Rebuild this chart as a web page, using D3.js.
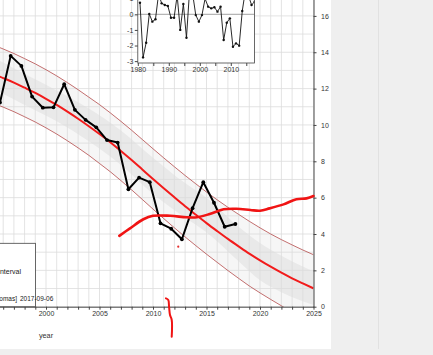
<!DOCTYPE html>
<html><head><meta charset="utf-8">
<script src="https://cdn.jsdelivr.net/npm/d3@7"></script>
<style>
body{margin:0;background:#efefef}
svg{display:block}
text{font-family:"Liberation Sans",Arial,Helvetica,sans-serif}
</style>
</head><body>
<svg id="c" width="433" height="355"></svg>
<script>
// ---- data ----
const obsYears  = [1995,1996,1997,1998,1999,2000,2001,2002,2003,2004,2005,2006,2007,2008,2009,2010,2011,2012,2013,2014,2015,2016,2017];
const obsValues = [11.23,13.80,13.25,11.56,10.95,10.97,12.24,10.83,10.28,9.87,9.17,9.03,6.46,7.10,6.85,4.59,4.29,3.71,5.42,6.85,5.72,4.40,4.55];

const fitYears  = [1993,1994,1995,1996,1997,1998,1999,2000,2001,2002,2003,2004,2005,2006,2007,2008,2009,2010,2011,2012,2013,2014,2015,2016,2017,2018,2019,2020,2021,2022,2023,2024,2025];
const fitTrend  = [13.25,13.04,12.82,12.58,12.33,12.05,11.76,11.44,11.10,10.73,10.34,9.93,9.50,9.05,8.57,8.07,7.55,7.03,6.52,6.02,5.53,5.06,4.60,4.16,3.73,3.32,2.92,2.55,2.20,1.87,1.56,1.28,1.01];
const fitUpper  = [14.85,14.64,14.42,14.18,13.93,13.65,13.36,13.04,12.70,12.33,11.94,11.53,11.12,10.67,10.20,9.71,9.20,8.69,8.19,7.70,7.22,6.76,6.31,5.88,5.47,5.08,4.70,4.34,4.00,3.69,3.40,3.12,2.86];
const fitLower  = [11.65,11.44,11.22,10.98,10.73,10.45,10.16,9.84,9.50,9.13,8.74,8.33,7.88,7.43,6.94,6.43,5.90,5.37,4.85,4.34,3.84,3.36,2.89,2.44,1.99,1.56,1.14,0.76,0.40,0.05,-0.28,-0.56,-0.84];

const bandYears = [1993,1995,1998,2001,2004,2007,2010,2013,2015,2018,2020,2022,2025];
const bandLow   = [12.50,12.00,11.10,10.20,9.10,7.80,6.20,4.90,4.10,2.50,1.45,0.80,0.10];
const bandHigh  = [14.10,13.70,12.80,11.90,10.90,9.70,8.20,6.80,6.00,4.40,3.50,2.80,1.93];

const insetYears  = [1980,1981,1982,1983,1984,1985,1986,1987,1988,1989,1990,1991,1992,1993,1994,1995,1996,1997,1998,1999,2000,2001,2002,2003,2004,2005,2006,2007,2008,2009,2010,2011,2012,2013,2014,2015,2016,2017];
const insetValues = [0.74,-2.76,-1.82,0.02,-0.47,-0.32,1.30,0.70,0.60,0.53,-0.22,-0.22,1.20,-1.00,0.66,-1.50,1.50,1.30,-0.05,-0.47,-0.05,1.00,0.49,0.38,0.45,0.17,0.49,-1.65,-0.54,-0.26,-2.08,-1.86,-2.01,0.21,1.50,1.20,0.60,0.81];

const xTickLabels = [2000,2005,2010,2015,2020,2025];
const yTickLabels = [0,2,4,6,8,10,12,14,16];
const insetXLabels = [1980,1990,2000,2010];
const insetYLabels = [-3,-2,-1,0,1];

// hand-drawn annotations (year, value)
const annoYears  = [2006.85,2007.85,2009.1,2010.0,2011.6,2013.15,2014.1,2015.3,2016.6,2017.8,2019.1,2020.0,2020.9,2022.2,2023.4,2024.35,2025.0];
const annoValues = [3.90,4.31,4.81,5.00,5.00,4.92,4.92,5.10,5.36,5.39,5.32,5.28,5.41,5.63,5.91,5.96,6.09];
const markYears  = [2011.21,2011.43,2011.5,2011.59,2011.75,2011.75];
const markValues = [0.46,0.37,0.0,-0.46,-0.73,-1.65];
const dotYear = 2012.36, dotValue = 3.3;

const legendTexts = ["prediction interval", "[piomas]", "2017-09-06"];
const axisTitle = "year";
const SEPT = 0.7; // September position within the year

// ---- drawing ----
const svg = d3.select("#c");
svg.append("rect").attr("width",433).attr("height",355).attr("fill","#efefef");
svg.append("rect").attr("width",331).attr("height",349).attr("fill","#ffffff");
svg.append("line").attr("x1",378.5).attr("x2",378.5).attr("y1",0).attr("y2",349).attr("stroke","#e1e1e1");

const x = d3.scaleLinear().domain([2000,2025]).range([46,313.5]);
const y = d3.scaleLinear().domain([0,16]).range([306.7,15.9]);

const defs = svg.append("defs");
defs.append("clipPath").attr("id","plot").append("rect")
  .attr("x",-200).attr("y",-200).attr("width",x(2025)+200).attr("height",y(0)+200);

const plot = svg.append("g").attr("clip-path","url(#plot)");

// outer light band between thin limits
const fit = fitYears.map((d,i)=>({yr:d,t:fitTrend[i],u:fitUpper[i],l:fitLower[i]}));
plot.append("path").datum(fit)
  .attr("d", d3.area().x(d=>x(d.yr)).y0(d=>y(d.l)).y1(d=>y(d.u)).curve(d3.curveMonotoneX))
  .attr("fill","#f6f6f6");
const band = bandYears.map((d,i)=>({yr:d,l:bandLow[i],h:bandHigh[i]}));
plot.append("path").datum(band)
  .attr("d", d3.area().x(d=>x(d.yr)).y0(d=>y(d.l)).y1(d=>y(d.h)).curve(d3.curveMonotoneX))
  .attr("fill","#e9e9e9");

// grid
const gridYears = d3.range(1990, 2026);
plot.append("g").selectAll("line").data(gridYears).join("line")
  .attr("x1",d=>x(d)).attr("x2",d=>x(d)).attr("y1",-10).attr("y2",y(0))
  .attr("stroke","#dcdcdc").attr("stroke-width",0.8);
const gridVals = d3.range(0, 18);
plot.append("g").selectAll("line").data(gridVals).join("line")
  .attr("x1",-10).attr("x2",x(2025)).attr("y1",d=>y(d)).attr("y2",d=>y(d))
  .attr("stroke","#dcdcdc").attr("stroke-width",0.8);

// thin limits
const thin = d3.line().x(d=>x(d.yr)).curve(d3.curveMonotoneX);
plot.append("path").datum(fit).attr("d", thin.y(d=>y(d.u))).attr("fill","none").attr("stroke","#b44a4a").attr("stroke-width",0.8);
plot.append("path").datum(fit).attr("d", thin.y(d=>y(d.l))).attr("fill","none").attr("stroke","#b44a4a").attr("stroke-width",0.8);
// trend
plot.append("path").datum(fit).attr("d", thin.y(d=>y(d.t))).attr("fill","none").attr("stroke","#f21b1b").attr("stroke-width",2);

// observations
const obs = obsYears.map((d,i)=>({yr:d,v:obsValues[i]}));
plot.append("path").datum(obs)
  .attr("d", d3.line().x(d=>x(d.yr+SEPT)).y(d=>y(d.v)))
  .attr("fill","none").attr("stroke","#000").attr("stroke-width",2).attr("stroke-linejoin","round");
plot.append("g").selectAll("circle").data(obs).join("circle")
  .attr("cx",d=>x(d.yr+SEPT)).attr("cy",d=>y(d.v)).attr("r",1.9).attr("fill","#000");

// axes
const axX = d3.axisBottom(x.copy().domain([1990,2025]).range([x(1990),x(2025)]))
  .tickValues(gridYears).tickSize(3).tickSizeOuter(0)
  .tickFormat(d => xTickLabels.includes(d) ? String(d) : "");
const gx = svg.append("g").attr("transform",`translate(0,${y(0)})`).call(axX);
gx.select(".domain").attr("stroke","#444");
gx.selectAll(".tick line").attr("stroke","#444");
gx.selectAll(".tick text").attr("fill","#333").attr("font-size",7).attr("dy","0.55em").attr("y",5);

const axY = d3.axisRight(y.copy().domain([0,18]).range([y(0),y(18)]))
  .tickValues(yTickLabels).tickSize(3).tickSizeOuter(0).tickFormat(d=>String(d));
const gy = svg.append("g").attr("transform",`translate(${x(2025)},0)`).call(axY);
gy.select(".domain").attr("stroke","#444");
gy.selectAll(".tick line").attr("stroke","#444");
gy.selectAll(".tick text").attr("fill","#333").attr("font-size",7).attr("x",7.5);

svg.append("text").attr("x",x(2000)).attr("y",338).attr("text-anchor","middle")
  .attr("font-size",7.3).attr("fill","#333").text(axisTitle);

// legend box (cropped)
svg.append("rect").attr("x",-5).attr("y",243.3).attr("width",40.5).attr("height",y(0)-243.3)
  .attr("fill","#fff").attr("stroke","#444").attr("stroke-width",0.8);
svg.append("text").attr("x",21).attr("y",273.6).attr("text-anchor","end").attr("font-size",7).attr("fill","#222").text(legendTexts[0]);
svg.append("text").attr("x",17).attr("y",300.6).attr("text-anchor","end").attr("font-size",6.5).attr("fill","#222").text(legendTexts[1]);
svg.append("text").attr("x",20).attr("y",300.6).attr("font-size",6.5).attr("fill","#222").text(legendTexts[2]);

// inset
const xi = d3.scaleLinear().domain([1980,2017.65]).range([137.8,254.5]);
const yi = d3.scaleLinear().domain([-3.12,2.3]).range([63,-21.6]);
defs.append("clipPath").attr("id","inset").append("rect")
  .attr("x",xi(1980)).attr("y",yi(2.3)).attr("width",xi(2017.65)-xi(1980)).attr("height",yi(-3.12)-yi(2.3));
svg.append("rect").attr("x",xi(1980)).attr("y",yi(2.3)).attr("width",xi(2017.65)-xi(1980)).attr("height",yi(-3.12)-yi(2.3))
  .attr("fill","#fff");
const ig = svg.append("g").attr("clip-path","url(#inset)");
ig.append("line").attr("x1",xi(1980)).attr("x2",xi(2017.65)).attr("y1",yi(0)).attr("y2",yi(0)).attr("stroke","#8a8a8a").attr("stroke-width",0.8);
const ins = insetYears.map((d,i)=>({yr:d,v:insetValues[i]}));
ig.append("path").datum(ins).attr("d", d3.line().x(d=>xi(d.yr+SEPT)).y(d=>yi(d.v)))
  .attr("fill","none").attr("stroke","#111").attr("stroke-width",0.9);
ig.append("g").selectAll("circle").data(ins).join("circle")
  .attr("cx",d=>xi(d.yr+SEPT)).attr("cy",d=>yi(d.v)).attr("r",1.2).attr("fill","#111");
svg.append("rect").attr("x",xi(1980)).attr("y",yi(2.3)).attr("width",xi(2017.65)-xi(1980)).attr("height",yi(-3.12)-yi(2.3))
  .attr("fill","none").attr("stroke","#444").attr("stroke-width",0.8);

const axIL = d3.axisLeft(yi).tickValues(insetYLabels).tickSize(3).tickSizeOuter(0).tickFormat(d=>String(d));
const gil = svg.append("g").attr("transform",`translate(${xi(1980)},0)`).call(axIL);
gil.select(".domain").remove();
gil.selectAll(".tick line").attr("stroke","#444");
gil.selectAll(".tick text").attr("fill","#333").attr("font-size",7).attr("x",-4.5);

const axIB = d3.axisBottom(xi).tickValues([1980,1985,1990,1995,2000,2005,2010,2015]).tickSize(3).tickSizeOuter(0)
  .tickFormat(d => insetXLabels.includes(d) ? String(d) : "");
const gib = svg.append("g").attr("transform",`translate(0,${yi(-3.12)})`).call(axIB);
gib.select(".domain").remove();
gib.selectAll(".tick line").attr("stroke","#444");
gib.selectAll(".tick text").attr("fill","#333").attr("font-size",7).attr("y",4).attr("dy","0.7em");

// annotations
const anno = annoYears.map((d,i)=>({yr:d,v:annoValues[i]}));
svg.append("path").datum(anno).attr("d", d3.line().x(d=>x(d.yr)).y(d=>y(d.v)).curve(d3.curveCatmullRom))
  .attr("fill","none").attr("stroke","#f01414").attr("stroke-width",2.6).attr("stroke-linecap","round");
const mark = markYears.map((d,i)=>({yr:d,v:markValues[i]}));
svg.append("path").datum(mark).attr("d", d3.line().x(d=>x(d.yr)).y(d=>y(d.v)).curve(d3.curveCatmullRom))
  .attr("fill","none").attr("stroke","#f01414").attr("stroke-width",2).attr("stroke-linecap","round");
svg.append("circle").attr("cx",x(dotYear)).attr("cy",y(dotValue)).attr("r",1.1).attr("fill","#e53030");
</script>
</body></html>
